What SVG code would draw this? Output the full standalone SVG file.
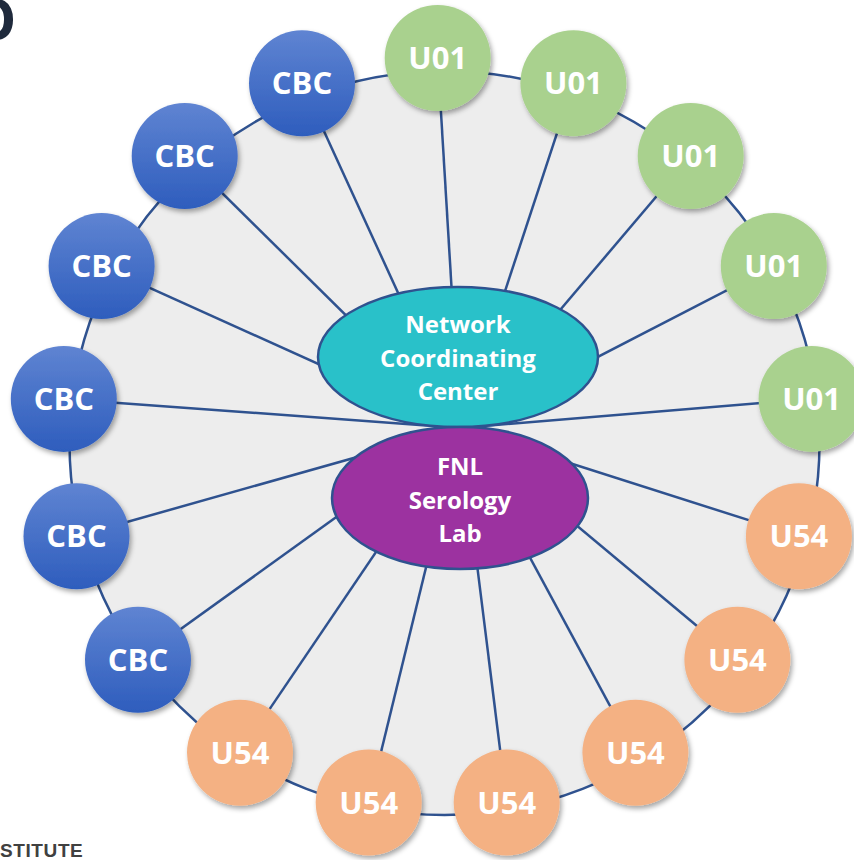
<svg xmlns="http://www.w3.org/2000/svg" width="854" height="860" viewBox="0 0 854 860">
  <defs>
    <linearGradient id="gCBC" x1="0" y1="0" x2="0" y2="1">
      <stop offset="0" stop-color="#5f84d2"/>
      <stop offset="1" stop-color="#2e5dbd"/>
    </linearGradient>
    <filter id="sh" x="-30%" y="-30%" width="160%" height="160%">
      <feDropShadow dx="2" dy="3" stdDeviation="2.5" flood-color="#000" flood-opacity="0.35"/>
    </filter>
    <style>
      .spoke{stroke:#2f528f;stroke-width:2.5;fill:none}
      .ring{fill:#ededed;stroke:#2f528f;stroke-width:2.5}
      .ell{stroke:#2f528f;stroke-width:2.5}
      .cbc{fill:url(#gCBC);filter:url(#sh)}
      .u01{fill:#a9d18e;filter:url(#sh)}
      .u54{fill:#f4b183;filter:url(#sh)}
      .nl{font-family:"Open Sans","DejaVu Sans",sans-serif;font-weight:bold;font-size:31px;fill:#fff;text-anchor:middle}
      .cl{font-family:"Open Sans","DejaVu Sans",sans-serif;font-weight:bold;font-size:24px;fill:#fff;text-anchor:middle}
    </style>
  </defs>

  <text x="-29" y="40" font-family="'Open Sans','DejaVu Sans',sans-serif" font-weight="bold" font-size="57" fill="#1f2a3c">O</text>
  <text x="0" y="857" font-family="'Liberation Sans',Arial,sans-serif" font-weight="bold" font-size="19" letter-spacing="0.6" fill="#404040">STITUTE</text>

  <g id="ring">
    <ellipse class="ring" cx="444.5" cy="443" rx="375" ry="372"/>
  </g>

  <g id="connectors">
    <line class="spoke" x1="437.7" y1="58" x2="460" y2="428"/>
    <line class="spoke" x1="573.4" y1="83.3" x2="460" y2="428"/>
    <line class="spoke" x1="690.7" y1="156" x2="460" y2="428"/>
    <line class="spoke" x1="773.8" y1="266.1" x2="460" y2="428"/>
    <line class="spoke" x1="811.6" y1="398.9" x2="460" y2="428"/>
    <line class="spoke" x1="798.9" y1="536.2" x2="460" y2="428"/>
    <line class="spoke" x1="737.4" y1="659.8" x2="460" y2="428"/>
    <line class="spoke" x1="635.4" y1="752.8" x2="460" y2="428"/>
    <line class="spoke" x1="506.7" y1="802.6" x2="460" y2="428"/>
    <line class="spoke" x1="368.7" y1="802.6" x2="460" y2="428"/>
    <line class="spoke" x1="240" y1="752.8" x2="460" y2="428"/>
    <line class="spoke" x1="138" y1="659.8" x2="460" y2="428"/>
    <line class="spoke" x1="76.5" y1="536.2" x2="460" y2="428"/>
    <line class="spoke" x1="63.8" y1="398.9" x2="460" y2="428"/>
    <line class="spoke" x1="101.6" y1="266.1" x2="460" y2="428"/>
    <line class="spoke" x1="184.7" y1="156" x2="460" y2="428"/>
    <line class="spoke" x1="302" y1="83.3" x2="460" y2="428"/>
  </g>

  <g id="ncc">
    <ellipse class="ell" cx="458" cy="357" rx="140" ry="70" fill="#29c1c9"/>
    <text class="cl" x="458" y="333">Network</text>
    <text class="cl" x="458" y="367">Coordinating</text>
    <text class="cl" x="458" y="400">Center</text>
  </g>
  <g id="fnl">
    <ellipse class="ell" cx="460" cy="498" rx="128" ry="71" fill="#9c32a0"/>
    <text class="cl" x="460" y="475">FNL</text>
    <text class="cl" x="460" y="509">Serology</text>
    <text class="cl" x="460" y="542">Lab</text>
  </g>

  <g id="u01-1"><circle class="u01" cx="437.7" cy="58" r="53"/><text class="nl" x="437.7" y="69">U01</text></g>
  <g id="u01-2"><circle class="u01" cx="573.4" cy="83.3" r="53"/><text class="nl" x="573.4" y="94.3">U01</text></g>
  <g id="u01-3"><circle class="u01" cx="690.7" cy="156" r="53"/><text class="nl" x="690.7" y="167">U01</text></g>
  <g id="u01-4"><circle class="u01" cx="773.8" cy="266.1" r="53"/><text class="nl" x="773.8" y="277.1">U01</text></g>
  <g id="u01-5"><circle class="u01" cx="811.6" cy="398.9" r="53"/><text class="nl" x="811.6" y="409.9">U01</text></g>

  <g id="u54-1"><circle class="u54" cx="798.9" cy="536.2" r="53"/><text class="nl" x="798.9" y="547.2">U54</text></g>
  <g id="u54-2"><circle class="u54" cx="737.4" cy="659.8" r="53"/><text class="nl" x="737.4" y="670.8">U54</text></g>
  <g id="u54-3"><circle class="u54" cx="635.4" cy="752.8" r="53"/><text class="nl" x="635.4" y="763.8">U54</text></g>
  <g id="u54-4"><circle class="u54" cx="506.7" cy="802.6" r="53"/><text class="nl" x="506.7" y="813.6">U54</text></g>
  <g id="u54-5"><circle class="u54" cx="368.7" cy="802.6" r="53"/><text class="nl" x="368.7" y="813.6">U54</text></g>
  <g id="u54-6"><circle class="u54" cx="240" cy="752.8" r="53"/><text class="nl" x="240" y="763.8">U54</text></g>

  <g id="cbc-1"><circle class="cbc" cx="138" cy="659.8" r="53"/><text class="nl" x="138" y="670.8">CBC</text></g>
  <g id="cbc-2"><circle class="cbc" cx="76.5" cy="536.2" r="53"/><text class="nl" x="76.5" y="547.2">CBC</text></g>
  <g id="cbc-3"><circle class="cbc" cx="63.8" cy="398.9" r="53"/><text class="nl" x="63.8" y="409.9">CBC</text></g>
  <g id="cbc-4"><circle class="cbc" cx="101.6" cy="266.1" r="53"/><text class="nl" x="101.6" y="277.1">CBC</text></g>
  <g id="cbc-5"><circle class="cbc" cx="184.7" cy="156" r="53"/><text class="nl" x="184.7" y="167">CBC</text></g>
  <g id="cbc-6"><circle class="cbc" cx="302" cy="83.3" r="53"/><text class="nl" x="302" y="94.3">CBC</text></g>
</svg>
